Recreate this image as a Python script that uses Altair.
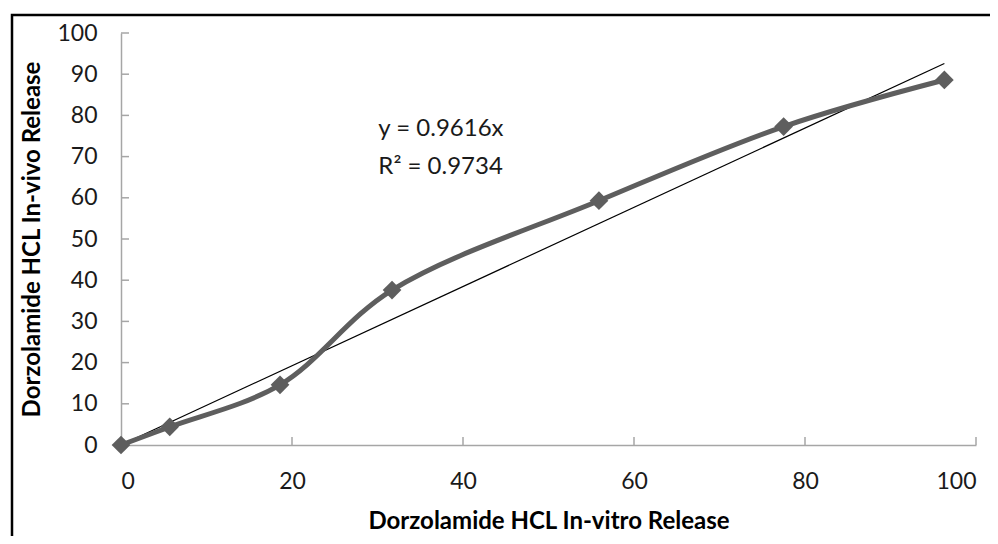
import altair as alt
import pandas as pd

# Data
in_vitro = [0, 5.7, 18.6, 31.7, 55.9, 77.5, 96.3]
in_vivo = [0, 4.4, 14.6, 37.6, 59.3, 77.3, 88.6]
slope = 0.9616
trend_x = [0, 96.3]
y_ticks = [0, 10, 20, 30, 40, 50, 60, 70, 80, 90, 100]
x_ticks = [0, 20, 40, 60, 80, 100]
ann_text = ["y = 0.9616x", "R\u00b2 = 0.9734"]
ann_x = [30.1, 30.1]
ann_y = [75.0, 65.8]

FONT = "Lato"
W, H = 855, 412
GREY = "#5e5e5e"
AXIS_GREY = "#a6a6a6"

pts = pd.DataFrame({"x": in_vitro, "y": in_vivo})
trend = pd.DataFrame({"x": trend_x, "y": [slope * v for v in trend_x]})
ann = pd.DataFrame({"t": ann_text, "x": ann_x, "y": ann_y})
yt = pd.DataFrame({"v": y_ticks})
xt = pd.DataFrame({"v": x_ticks})

xs = alt.Scale(domain=[0, 100], nice=False)
ys = alt.Scale(domain=[0, 100], nice=False)

x_axis = alt.Axis(values=x_ticks, grid=False, ticks=False, domainColor=AXIS_GREY,
                  domainWidth=1.5, labelFont=FONT, labelFontSize=23, labelColor="#1a1a1a",
                  labelPadding=25, title="Dorzolamide HCL In-vitro Release",
                  titleFont=FONT, titleFontSize=24, titleFontWeight="bold",
                  titleColor="#000000", titlePadding=16)
y_axis = alt.Axis(values=y_ticks, grid=False, ticks=False, domainColor=AXIS_GREY,
                  domainWidth=1.5, labelFont=FONT, labelFontSize=23, labelColor="#1a1a1a",
                  labelPadding=24, title="Dorzolamide HCL In-vivo Release",
                  titleFont=FONT, titleFontSize=24, titleFontWeight="bold",
                  titleColor="#000000", titlePadding=12)

frame = alt.Chart(pd.DataFrame({"a": [0]})).mark_rect(
    fill="white", fillOpacity=0, stroke="black", strokeWidth=2.5
).encode(x=alt.value(-109), x2=alt.value(940), y=alt.value(-18), y2=alt.value(560))

ytick_rules = alt.Chart(yt).mark_rule(color=AXIS_GREY, strokeWidth=1.5).encode(
    y=alt.Y("v:Q", scale=ys, axis=y_axis), x=alt.value(0), x2=alt.value(8)
)
xtick_rules = alt.Chart(xt).mark_rule(color=AXIS_GREY, strokeWidth=1.5).encode(
    x=alt.X("v:Q", scale=xs, axis=x_axis), y=alt.value(H), y2=alt.value(H - 8)
)

trend_line = alt.Chart(trend).mark_line(color="#000000", strokeWidth=1.2).encode(
    x=alt.X("x:Q", scale=xs), y=alt.Y("y:Q", scale=ys)
)
curve = alt.Chart(pts).mark_line(color=GREY, strokeWidth=5, interpolate="catmull-rom").encode(
    x=alt.X("x:Q", scale=xs), y=alt.Y("y:Q", scale=ys)
)
markers = alt.Chart(pts).mark_point(shape="diamond", size=350, filled=True, color=GREY,
                                    opacity=1).encode(
    x=alt.X("x:Q", scale=xs), y=alt.Y("y:Q", scale=ys)
)
labels = alt.Chart(ann).mark_text(font=FONT, fontSize=24, align="left", baseline="alphabetic",
                                  color="#1a1a1a").encode(
    x=alt.X("x:Q", scale=xs), y=alt.Y("y:Q", scale=ys), text="t:N"
)

chart = alt.layer(frame, ytick_rules, xtick_rules, trend_line, curve, markers, labels).properties(
    width=W, height=H,
    autosize=alt.AutoSizeParams(type="none"),
    padding={"left": 113, "top": 25, "right": 14, "bottom": 91},
    background="white",
).configure_view(stroke=None)

chart.save("out.html", embed_options={"renderer": "svg", "actions": False})
